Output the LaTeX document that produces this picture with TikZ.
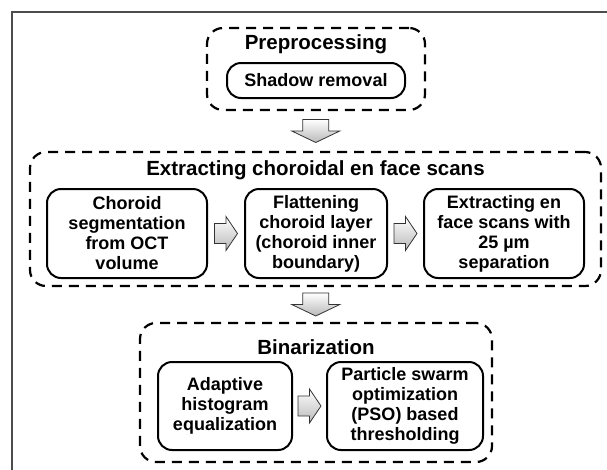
\documentclass[tikz,border=0pt]{standalone}
\usepackage{fontspec}
\setmainfont{Liberation Sans}
\usetikzlibrary{calc}
\begin{document}
\begin{tikzpicture}[x=1pt,y=-1pt,
 group/.style={draw, line width=2.2pt, dash pattern=on 10pt off 7pt, rounded corners=16pt, inner sep=0pt},
 stepbox/.style={draw, line width=2pt, rounded corners=14pt, align=center, font=\bfseries\fontsize{18}{20}\selectfont, inner sep=0pt},
 grouptitle/.style={font=\bfseries\fontsize{20.5}{23}\selectfont, inner sep=0pt},
 arr/.style={draw=gray!40!black, line width=0.8pt, top color=white, bottom color=gray!55, line join=miter},
 downarrow/.pic={\path[arr] (-13,-11.5) -- (13,-11.5) -- (13,0) -- (24,0) -- (0,11.5) -- (-24,0) -- (-13,0) -- cycle;},
 rightarrow/.pic={\path[arr] (-11.5,-10) -- (0,-10) -- (0,-17) -- (11.5,0) -- (0,17) -- (0,10) -- (-11.5,10) -- cycle;}
]
\useasboundingbox (0,0) rectangle (607,469);
\draw[gray!60!black, line width=1.6pt] (12,472) -- (12,12) -- (610,12);

% Preprocessing
\node[group, minimum width=218pt, minimum height=82pt] (pre) at (316,69) {};
\node[grouptitle] (pret) at (316,44) {Preprocessing};
\node[stepbox, minimum width=178pt, minimum height=35pt] (shadow) at (316,80.5) {Shadow removal};

% Extracting
\node[group, minimum width=571pt, minimum height=134pt] (ext) at (315.5,219) {};
\node[grouptitle] (extt) at (315.5,170) {Extracting choroidal en face scans};
\node[stepbox, minimum width=160pt, minimum height=89pt] (b1) at (127,233.5) {Choroid\\segmentation\\from OCT\\volume};
\node[stepbox, minimum width=142pt, minimum height=89pt] (b2) at (316,233.5) {Flattening\\choroid layer\\(choroid inner\\boundary)};
\node[stepbox, minimum width=160pt, minimum height=89pt] (b3) at (504,233.5) {Extracting en\\face scans with\\25 µm\\separation};

% Binarization
\node[group, minimum width=352pt, minimum height=139pt] (bin) at (316,392.5) {};
\node[grouptitle] (bint) at (316,347) {Binarization};
\node[stepbox, minimum width=134pt, minimum height=88pt] (ba) at (225,406) {Adaptive\\histogram\\equalization};
\node[stepbox, minimum width=156pt, minimum height=88pt] (bb) at (405,406) {Particle swarm\\optimization\\(PSO) based\\thresholding};

% Block arrows
\pic at ($(pre.south)!0.5!(ext.north)$) {downarrow};
\pic at ($(ext.south)!0.5!(bin.north)$) {downarrow};
\pic at ($(b1.east)!0.5!(b2.west)$) {rightarrow};
\pic at ($(b2.east)!0.5!(b3.west)$) {rightarrow};
\pic at ($(ba.east)!0.5!(bb.west)$) {rightarrow};
\end{tikzpicture}
\end{document}
